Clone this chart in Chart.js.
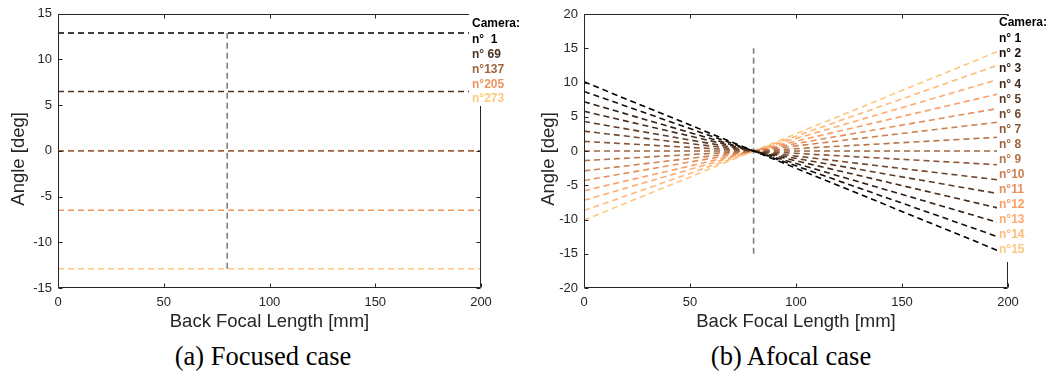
<!DOCTYPE html>
<html>
<head>
<meta charset="utf-8">
<script src="https://cdn.jsdelivr.net/npm/chart.js@4.4.0/dist/chart.umd.min.js"></script>
<style>
  body { margin: 0; background: #fff; width: 1051px; height: 376px; position: relative; overflow: hidden; }
  canvas { position: absolute; top: 0; }
  #focused { left: 0; }
  #afocal { left: 530px; }
  .cap { position: absolute; top: 341px; line-height: 30px; font: 26.5px 'Liberation Serif', serif; color: #000; transform: translateX(-50%); white-space: nowrap; }
</style>
</head>
<body>
<canvas id="focused" width="530" height="340"></canvas>
<canvas id="afocal" width="521" height="340"></canvas>
<div class="cap" style="left:263px">(a) Focused case</div>
<div class="cap" style="left:791px">(b) Afocal case</div>
<script>
// values
const focusedX = [0, 200];
const focusedAngles = [12.9, 6.5, 0, -6.5, -12.9];
const focusedLabels = ['n°  1', 'n° 69', 'n°137', 'n°205', 'n°273'];

const afocalX = [0, 195];
const afocalStart = [10.1, 8.7, 7.2, 5.8, 4.3, 2.9, 1.4, 0, -1.4, -2.9, -4.3, -5.8, -7.2, -8.7, -10.1];
const afocalEnd = [-14.5, -12.5, -10.4, -8.3, -6.2, -4.2, -2.0, 0, 2.0, 4.2, 6.2, 8.3, 10.4, 12.5, 14.5];
const afocalLabels = ['n° 1', 'n° 2', 'n° 3', 'n° 4', 'n° 5', 'n° 6', 'n° 7', 'n° 8', 'n° 9',
  'n°10', 'n°11', 'n°12', 'n°13', 'n°14', 'n°15'];

const stopX = 80;
const focusedStop = [-12.9, 12.9];
const afocalStop = [-15, 15];

const FONT = "'Liberation Sans', Arial, sans-serif";
const AXIS = '#262626';

// matlab copper colormap
function copper(t) {
  const r = Math.round(255 * Math.min(1, 1.25 * t));
  const g = Math.round(255 * 0.7812 * t);
  const b = Math.round(255 * 0.4975 * t);
  return `rgb(${r},${g},${b})`;
}

const boxPlugin = {
  id: 'box',
  afterDatasetsDraw(chart) {
    const { ctx, chartArea: a, scales: { x, y } } = chart;
    const L = Math.round(a.left) + 0.5, R = Math.round(a.right) - 0.5;
    const T = Math.round(a.top) + 0.5, B = Math.round(a.bottom) - 0.5;
    ctx.save();
    ctx.strokeStyle = AXIS;
    ctx.lineWidth = 1;
    ctx.beginPath();
    ctx.rect(L, T, R - L, B - T);
    x.ticks.forEach(t => {
      const px = Math.round(x.getPixelForValue(t.value)) + 0.5;
      ctx.moveTo(px, B); ctx.lineTo(px, B - 4);
      ctx.moveTo(px, T); ctx.lineTo(px, T + 4);
    });
    y.ticks.forEach(t => {
      const py = Math.round(y.getPixelForValue(t.value)) + 0.5;
      ctx.moveTo(L, py); ctx.lineTo(L + 4, py);
      ctx.moveTo(R, py); ctx.lineTo(R - 4, py);
    });
    ctx.stroke();

    // y axis title, sits a little below the axis middle like the original
    ctx.font = '18.5px ' + FONT;
    ctx.fillStyle = AXIS;
    ctx.textAlign = 'center';
    ctx.textBaseline = 'middle';
    ctx.translate(19, (a.top + a.bottom) / 2 + 8);
    ctx.rotate(-Math.PI / 2);
    ctx.fillText('Angle [deg]', 0, 0);
    ctx.restore();
  }
};

const cameraLegend = {
  id: 'cameraLegend',
  afterDraw(chart, args, o) {
    const ctx = chart.ctx;
    ctx.save();
    ctx.fillStyle = '#fff';
    ctx.fillRect(o.boxLeft, o.boxTop, chart.width - o.boxLeft, o.boxBottom - o.boxTop);
    ctx.font = 'bold 12px ' + FONT;
    ctx.textBaseline = 'middle';
    ctx.fillStyle = '#000';
    ctx.fillText('Camera:', o.x, o.titleY);
    o.labels.forEach((l, i) => {
      ctx.fillStyle = o.colors[i];
      ctx.fillText(l, o.x, o.firstY + i * o.step);
    });
    ctx.restore();
  }
};

function dashed(data, color) {
  return {
    data: data,
    borderColor: color,
    borderWidth: 1.6,
    borderDash: [6, 4],
    pointRadius: 0,
    fill: false,
    tension: 0,
  };
}

function makeOptions(yMin, yMax, yWidth, padRight, padTop, legend) {
  return {
    responsive: false,
    animation: false,
    layout: { padding: { left: 0, right: padRight, top: padTop, bottom: 0 } },
    plugins: { legend: { display: false }, tooltip: { enabled: false }, cameraLegend: legend },
    scales: {
      x: {
        type: 'linear', min: 0, max: 200,
        grid: { display: false, drawTicks: false },
        border: { display: false },
        ticks: { stepSize: 50, padding: 7, color: AXIS, font: { family: FONT, size: 13 } },
        title: { display: true, text: 'Back Focal Length [mm]', color: AXIS,
          font: { family: FONT, size: 18.5 }, padding: { top: 0, bottom: 7 } },
        afterFit: s => { s.height = 52; }
      },
      y: {
        min: yMin, max: yMax,
        grid: { display: false, drawTicks: false },
        border: { display: false },
        ticks: { stepSize: 5, padding: 6, color: AXIS, font: { family: FONT, size: 13 } },
        title: { display: false },
        afterFit: s => { s.width = yWidth; }
      }
    }
  };
}

// (a) focused case
const focusedColors = focusedAngles.map((v, i) => copper(i / (focusedAngles.length - 1)));
const focusedSets = focusedAngles.map((v, i) =>
  dashed(focusedX.map(x => ({ x: x, y: v })), focusedColors[i]));
focusedSets.push(dashed(focusedStop.map(v => ({ x: stopX, y: v })), '#7f7f7f'));

new Chart(document.getElementById('focused'), {
  type: 'line',
  data: { datasets: focusedSets },
  options: makeOptions(-15, 15, 58, 49, 13, {
    labels: focusedLabels, colors: focusedColors,
    x: 472, titleY: 24, firstY: 39.5, step: 14.9,
    boxLeft: 469, boxTop: 11, boxBottom: 106
  }),
  plugins: [boxPlugin, cameraLegend]
});

// (b) afocal case
const afocalColors = afocalStart.map((v, i) => copper(i / (afocalStart.length - 1)));
const afocalSets = afocalStart.map((v, i) =>
  dashed([{ x: afocalX[0], y: v }, { x: afocalX[1], y: afocalEnd[i] }], afocalColors[i]));
afocalSets.push(dashed(afocalStop.map(v => ({ x: stopX, y: v })), '#7f7f7f'));

new Chart(document.getElementById('afocal'), {
  type: 'line',
  data: { datasets: afocalSets },
  options: makeOptions(-20, 20, 54, 43, 14, {
    labels: afocalLabels, colors: afocalColors,
    x: 469, titleY: 23, firstY: 39, step: 15.07,
    boxLeft: 467, boxTop: 16, boxBottom: 262
  }),
  plugins: [boxPlugin, cameraLegend]
});
</script>
</body>
</html>
